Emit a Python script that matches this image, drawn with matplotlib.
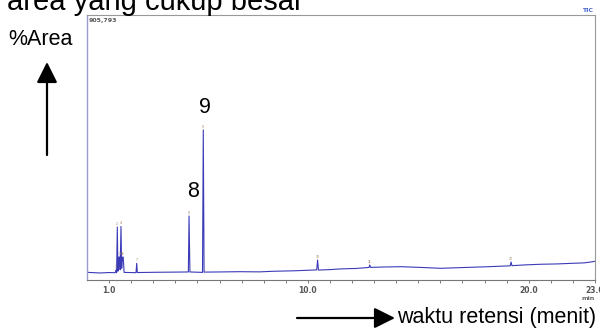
import matplotlib
matplotlib.use("Agg")
import matplotlib.pyplot as plt

plt.rcParams["font.family"] = ["Liberation Sans", "DejaVu Sans"]

# chromatogram trace (time in min, intensity)
trace_t = [0.05, 0.6, 1.0, 1.28, 1.31, 1.34, 1.372, 1.40, 1.44, 1.47, 1.50,
           1.539, 1.57, 1.60, 1.64, 1.68, 2.22, 2.25, 2.28, 3.2, 4.0, 4.59,
           4.62, 4.66, 5.23, 5.265, 5.30, 6.0, 6.9, 7.8, 8.5, 9.4, 10.4, 10.44,
           10.48, 11.0, 11.5, 12.2, 12.77, 12.8, 12.84, 13.5, 14.2, 15.1, 16.0,
           17.0, 18.2, 19.16, 19.2, 19.24, 19.8, 20.5, 21.3, 22.0, 22.5, 22.9,
           23.0]
trace_i = [26000, 24000, 25500, 25000, 34000, 25000, 181000, 30000, 78000,
           78600, 35000, 183000, 40000, 78000, 78000, 26000, 25000, 57000,
           25500, 26500, 27000, 27500, 219000, 27500, 26000, 513000, 27000,
           27500, 28400, 27800, 30000, 31500, 34500, 68400, 34000, 35500,
           38000, 39500, 43000, 51300, 43200, 44500, 45500, 43000, 40000,
           42500, 45500, 48500, 61500, 49000, 51500, 53700, 55000, 57100,
           58500, 62500, 64000]

# labelled peaks
peak_t = [1.31, 1.372, 1.47, 1.539, 1.60, 1.64, 2.25, 4.62, 5.265, 10.44, 12.8, 19.2]
peak_i = [34000, 181000, 78600, 183000, 78000, 78000, 57000, 219000, 513000, 68400, 51300, 61500]
peak_no = [str(k) for k in range(1, 13)]

y_max = 905793
x_ticks = list(range(1, 24))
x_labels = {1: "1.0", 10: "10.0", 20: "20.0", 23: "23.0"}

fig = plt.figure(figsize=(6, 3.3), dpi=100)
ax = fig.add_axes([87 / 600, 1 - 280 / 330, 508 / 600, 265 / 330])

ax.plot(trace_t, trace_i, color="#3b3bb8", lw=0.8)
for t, v, n in zip(peak_t, peak_i, peak_no):
    ax.text(t, v + 4000, n, fontsize=2.5, color="#a08060",
            ha="center", va="bottom")

ax.set_xlim(0, 23)
ax.set_ylim(0, y_max)
ax.set_yticks([])
ax.set_xticks(x_ticks)
ax.set_xticklabels([x_labels.get(t, "") for t in x_ticks])
ax.tick_params(axis="x", length=2.5, width=0.6, color="#666666", pad=1.5,
               labelsize=5.5, labelcolor="#555555")
for lab in ax.get_xticklabels():
    lab.set_fontweight("bold")
    lab.set_family("DejaVu Sans")

ax.spines["left"].set_color("#9a9acc")
ax.spines["left"].set_linewidth(1.0)
for s in ["top", "right"]:
    ax.spines[s].set_color("#999999")
    ax.spines[s].set_linewidth(0.8)
ax.spines["bottom"].set_color("#777777")
ax.spines["bottom"].set_linewidth(0.8)

ax.text(0.003, 0.99, "905,793", transform=ax.transAxes, fontsize=4.5,
        color="#555555", ha="left", va="top", family="DejaVu Sans", weight="bold")
fig.text(588 / 600, 1 - 11 / 330, "TIC", fontsize=4.5, color="#4466cc",
         ha="center", va="center", family="DejaVu Sans", weight="bold")
fig.text(588 / 600, 1 - 298 / 330, "min", fontsize=4.5, color="#666666",
         ha="center", va="center", family="DejaVu Sans", weight="bold")

# annotations
fig.text(7 / 600, 1 - 10 / 330, "area yang cukup besar", fontsize=21,
         ha="left", va="baseline")
fig.text(8 / 600, 1 - 45 / 330, "%Area", fontsize=15.5, ha="left", va="baseline")
ax.text(5.35, 591000, "9", fontsize=15.5, ha="center", va="center")
ax.text(4.8, 304000, "8", fontsize=15.5, ha="center", va="center")
fig.text(397 / 600, 1 - 318 / 330, "waktu retensi (menit)", fontsize=15.5,
         ha="left", va="center")

arrow = dict(arrowstyle="-|>,head_length=0.7,head_width=0.35", color="black",
             lw=1.6, mutation_scale=18, shrinkA=0, shrinkB=0)
fig.add_artist(matplotlib.patches.FancyArrowPatch(
    (47 / 600, 1 - 155 / 330), (47 / 600, 1 - 62 / 330),
    transform=fig.transFigure, **arrow))
fig.add_artist(matplotlib.patches.FancyArrowPatch(
    (297 / 600, 1 - 318 / 330), (395 / 600, 1 - 318 / 330),
    transform=fig.transFigure, **arrow))

fig.savefig("out.png", dpi=100)
